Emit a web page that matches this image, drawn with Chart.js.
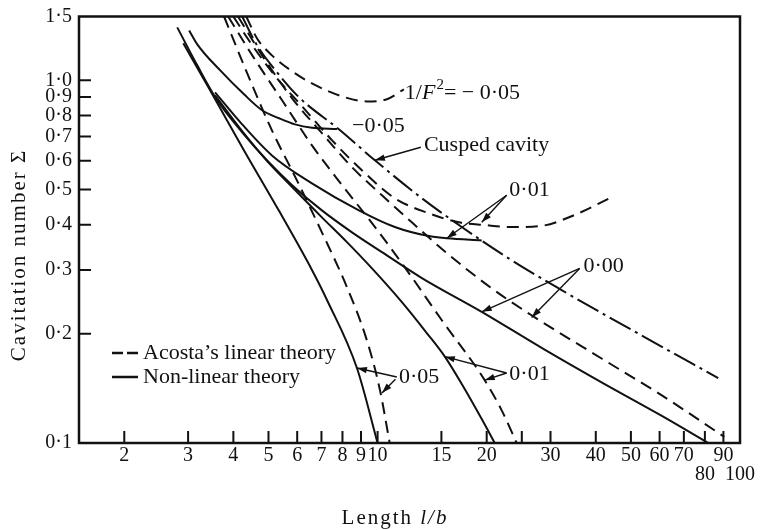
<!DOCTYPE html>
<html>
<head>
<meta charset="utf-8">
<script src="https://cdn.jsdelivr.net/npm/chart.js@4.4.1/dist/chart.umd.min.js"></script>
<style>
  html, body { margin: 0; padding: 0; background: #fff; }
  #wrap { width: 760px; height: 530px; }
</style>
</head>
<body>
<div id="wrap"><canvas id="chart" width="760" height="530"></canvas></div>
<script>
const xTicks = [2, 3, 4, 5, 6, 7, 8, 9, 10, 15, 20, 25, 30, 40, 50, 60, 70, 80, 90, 100];
const yTicks = [0.1, 0.2, 0.3, 0.4, 0.5, 0.6, 0.7, 0.8, 0.9, 1.0, 1.5];

// Acosta's linear theory (dashed), one list per 1/F^2 value: [l/b, sigma]
const linearM005 = [[4.34,1.50],[4.65,1.305],[5.11,1.172],[5.81,1.059],[6.59,0.981],[7.98,0.903],[9.34,0.875],[10.61,0.887],[11.82,0.945]];
const linear001Upper = [[4.00,1.50],[4.51,1.249],[5.28,1.013],[6.19,0.848],[7.48,0.684],[9.05,0.565],[11.16,0.473],[13.84,0.430],[16.75,0.406],[19.75,0.399],[23.44,0.394],[28.36,0.397],[34.3,0.422],[44.2,0.476]];
const linear000 = [[4.12,1.50],[4.86,1.15],[5.81,0.892],[7.02,0.715],[8.50,0.576],[10.28,0.482],[12.43,0.406],[15.52,0.334],[20.65,0.267],[26.6,0.225],[41.5,0.171],[60.7,0.1355],[90.5,0.104]];
const linear001 = [[3.87,1.50],[4.51,1.172],[5.45,0.881],[6.59,0.662],[7.98,0.514],[9.65,0.404],[11.89,0.305],[15.04,0.218],[19.75,0.149],[22.0,0.123],[24.2,0.1]];
const linear005 = [[3.77,1.50],[4.36,1.05],[5.11,0.728],[5.99,0.530],[7.02,0.381],[8.23,0.269],[9.34,0.192],[10.15,0.140],[10.8,0.1]];

// non-linear theory (solid)
const nonlinM005 = [[3.02,1.373],[3.18,1.257],[3.68,1.065],[4.28,0.915],[4.80,0.827],[5.35,0.786],[5.92,0.756],[6.59,0.740],[7.73,0.734]];
const nonlin001Upper = [[3.56,0.927],[4.23,0.756],[5.11,0.621],[6.59,0.520],[8.88,0.438],[11.16,0.394],[13.84,0.372],[15.52,0.367],[19.38,0.362]];
const nonlin000 = [[2.80,1.40],[3.18,1.10],[3.61,0.881],[4.23,0.719],[4.95,0.602],[5.81,0.514],[7.02,0.438],[8.50,0.381],[10.28,0.336],[13.25,0.285],[19.38,0.230],[28.36,0.183],[41.5,0.147],[60.7,0.119],[81.8,0.1]];
const nonlin001 = [[3.56,0.909],[4.23,0.724],[4.95,0.600],[5.81,0.508],[7.02,0.419],[8.23,0.358],[9.65,0.303],[11.67,0.2446],[13.67,0.201],[15.33,0.173],[17.07,0.1454],[19.38,0.1164],[21.05,0.1]];
const nonlin005 = [[2.91,1.265],[3.45,0.939],[4.28,0.641],[5.35,0.436],[6.59,0.300],[7.25,0.248],[8.77,0.161],[10.0,0.1]];

// cusped cavity (dash-dot)
const cusped = [[4.23,1.50],[4.65,1.249],[5.28,1.052],[6.07,0.898],[7.82,0.733],[9.83,0.602],[13.25,0.473],[17.07,0.394],[23.44,0.319],[32.2,0.264],[53.5,0.198],[87.1,0.151]];

// labels and arrows, placed in data coordinates
const labels = [
  { text: '−0·05', x: 8.50, y: 0.747 },
  { text: 'Cusped cavity', x: 13.42, y: 0.662 },
  { text: '0·01', x: 23.1, y: 0.498 },
  { text: '0·00', x: 37.0, y: 0.307 },
  { text: '0·05', x: 11.45, y: 0.152 },
  { text: '0·01', x: 23.1, y: 0.155 }
];
const arrows = [
  [[13.16,0.654],[9.83,0.602]],
  [[22.7,0.482],[15.52,0.367]],
  [[22.7,0.482],[19.38,0.406]],
  [[36.1,0.303],[19.38,0.230]],
  [[36.1,0.303],[26.6,0.222]],
  [[11.30,0.152],[8.77,0.161]],
  [[11.20,0.150],[10.28,0.1374]],
  [[22.7,0.156],[15.33,0.173]],
  [[22.7,0.156],[19.75,0.149]]
];

const INK = '#111';
const SERIF = '"Liberation Serif", "DejaVu Serif", serif';
const DASH = [12, 7];
const DASHDOT = [24, 5, 3, 5];

function toPts(arr) { return arr.map(p => ({ x: p[0], y: p[1] })); }
function curve(arr, dash) {
  return { data: toPts(arr), showLine: true, fill: false, borderColor: INK, borderWidth: 2,
           borderDash: dash, pointRadius: 0, cubicInterpolationMode: 'monotone' };
}

function arrowLine(ctx, x1, y1, x2, y2) {
  ctx.beginPath(); ctx.moveTo(x1, y1); ctx.lineTo(x2, y2); ctx.stroke();
  const ang = Math.atan2(y2 - y1, x2 - x1), L = 10, W = 3.2;
  ctx.beginPath();
  ctx.moveTo(x2, y2);
  ctx.lineTo(x2 - L * Math.cos(ang) + W * Math.sin(ang), y2 - L * Math.sin(ang) - W * Math.cos(ang));
  ctx.lineTo(x2 - L * Math.cos(ang) - W * Math.sin(ang), y2 - L * Math.sin(ang) + W * Math.cos(ang));
  ctx.closePath(); ctx.fill();
}

const overlay = {
  id: 'overlay',
  afterDraw(chart) {
    const { ctx, chartArea: a, scales: { x, y } } = chart;
    ctx.save();
    ctx.strokeStyle = INK; ctx.fillStyle = INK;
    // frame
    ctx.lineWidth = 2.5;
    ctx.strokeRect(a.left, a.top, a.right - a.left, a.bottom - a.top);
    // inward tick marks
    ctx.lineWidth = 2;
    ctx.beginPath();
    xTicks.forEach(v => {
      if (v >= 100) return;
      const px = x.getPixelForValue(v);
      ctx.moveTo(px, a.bottom); ctx.lineTo(px, a.bottom - 12);
    });
    yTicks.forEach(v => {
      if (v <= 0.1 || v >= 1.5) return;
      const py = y.getPixelForValue(v);
      ctx.moveTo(a.left, py); ctx.lineTo(a.left + 12, py);
    });
    ctx.stroke();

    // arrows
    ctx.lineWidth = 1.4;
    arrows.forEach(([p, q]) => {
      arrowLine(ctx, x.getPixelForValue(p[0]), y.getPixelForValue(p[1]),
                     x.getPixelForValue(q[0]), y.getPixelForValue(q[1]));
    });

    // curve labels
    ctx.font = '22px ' + SERIF;
    ctx.textAlign = 'left'; ctx.textBaseline = 'middle';
    labels.forEach(l => ctx.fillText(l.text, x.getPixelForValue(l.x), y.getPixelForValue(l.y)));

    // 1/F^2 = -0.05
    let tx = x.getPixelForValue(11.89), ty = y.getPixelForValue(0.921);
    ctx.fillText('1/', tx, ty); tx += ctx.measureText('1/').width;
    ctx.font = 'italic 22px ' + SERIF;
    ctx.fillText('F', tx, ty); tx += ctx.measureText('F').width + 1;
    ctx.font = '15px ' + SERIF;
    ctx.fillText('2', tx, ty - 8); tx += ctx.measureText('2').width;
    ctx.font = '22px ' + SERIF;
    ctx.fillText('= − 0·05', tx, ty);

    // legend
    const lx = a.left + 33, ly1 = 353, ly2 = 377;
    ctx.lineWidth = 2.5;
    ctx.beginPath();
    ctx.moveTo(lx, ly1); ctx.lineTo(lx + 11, ly1);
    ctx.moveTo(lx + 15, ly1); ctx.lineTo(lx + 26, ly1);
    ctx.moveTo(lx, ly2); ctx.lineTo(lx + 26, ly2);
    ctx.stroke();
    ctx.font = '22px ' + SERIF;
    ctx.fillText('Acosta\u2019s linear theory', lx + 31, ly1);
    ctx.fillText('Non-linear theory', lx + 31, ly2);

    // axis titles
    ctx.letterSpacing = '2px';
    ctx.textAlign = 'center';
    ctx.save();
    ctx.translate(19, 255); ctx.rotate(-Math.PI / 2);
    ctx.font = '21px ' + SERIF;
    ctx.fillText('Cavitation number Σ', 0, 0);
    ctx.restore();

    ctx.textAlign = 'left';
    ctx.font = '21px ' + SERIF;
    const w1 = ctx.measureText('Length ').width;
    ctx.font = 'italic 21px ' + SERIF;
    const w2 = ctx.measureText('l/b').width;
    let sx = 395 - (w1 + w2) / 2;
    ctx.font = '21px ' + SERIF;
    ctx.fillText('Length ', sx, 518);
    ctx.font = 'italic 21px ' + SERIF;
    ctx.fillText('l/b', sx + w1, 518);
    ctx.restore();
  }
};

const tickFont = { family: SERIF, size: 20, lineHeight: 0.95 };

new Chart(document.getElementById('chart').getContext('2d'), {
  type: 'scatter',
  data: {
    datasets: [
      curve(linearM005, DASH),
      curve(linear001Upper, DASH),
      curve(linear000, DASH),
      curve(linear001, DASH),
      curve(linear005, DASH),
      curve(nonlinM005, []),
      curve(nonlin001Upper, []),
      curve(nonlin000, []),
      curve(nonlin001, []),
      curve(nonlin005, []),
      curve(cusped, DASHDOT)
    ]
  },
  options: {
    responsive: false,
    animation: false,
    layout: { padding: { left: 0, right: 20, top: 16, bottom: 0 } },
    plugins: { legend: { display: false }, tooltip: { enabled: false } },
    scales: {
      x: {
        type: 'logarithmic', min: 1.5, max: 100,
        grid: { display: false, drawTicks: false },
        border: { display: false },
        afterBuildTicks: s => { s.ticks = xTicks.map(v => ({ value: v })); },
        afterFit: s => { s.height = 87; },
        ticks: {
          autoSkip: false, maxRotation: 0, minRotation: 0, padding: 3, color: INK, font: tickFont,
          callback: v => v === 25 ? '' : (v === 80 || v === 100) ? ['', String(v)] : String(v)
        }
      },
      y: {
        type: 'logarithmic', min: 0.1, max: 1.5,
        grid: { display: false, drawTicks: false },
        border: { display: false },
        afterBuildTicks: s => { s.ticks = yTicks.map(v => ({ value: v })); },
        afterFit: s => { s.width = 79; },
        ticks: {
          autoSkip: false, padding: 7, color: INK, font: tickFont,
          callback: v => Number(v).toFixed(1).replace('.', '·')
        }
      }
    }
  },
  plugins: [overlay]
});
</script>
</body>
</html>
